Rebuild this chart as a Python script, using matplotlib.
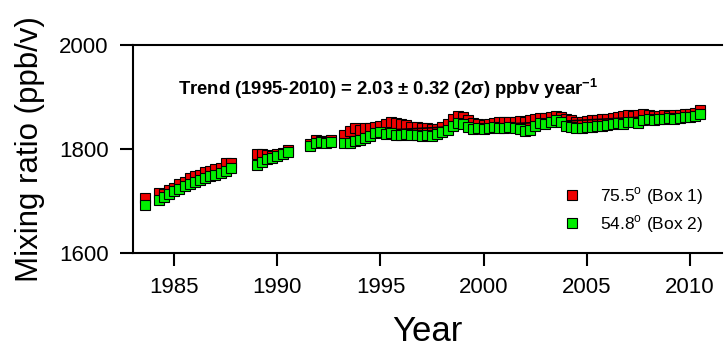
import numpy as np
import matplotlib
matplotlib.use('Agg')
import matplotlib.pyplot as plt

plt.rcParams['font.family'] = ['Liberation Sans', 'DejaVu Sans']
plt.rcParams['mathtext.fontset'] = 'custom'
plt.rcParams['mathtext.rm'] = 'Liberation Sans'
plt.rcParams['mathtext.bf'] = 'Liberation Sans:bold'

# años (trimestrales) por tramo, con huecos en la serie
years = [1983.6,
         1984.25, 1984.5, 1984.75, 1985.0, 1985.25, 1985.5, 1985.75, 1986.0,
         1986.25, 1986.5, 1986.75, 1987.0, 1987.25, 1987.5, 1987.75,
         1989.0, 1989.25, 1989.5, 1989.75, 1990.0, 1990.25, 1990.5,
         1991.6, 1991.85, 1992.1, 1992.35, 1992.6,
         1993.25, 1993.5, 1993.75, 1994.0, 1994.25, 1994.5, 1994.75, 1995.0,
         1995.25, 1995.5, 1995.75, 1996.0, 1996.25, 1996.5, 1996.75, 1997.0,
         1997.25, 1997.5, 1997.75, 1998.0, 1998.25, 1998.5, 1998.75, 1999.0,
         1999.25, 1999.5, 1999.75, 2000.0, 2000.25, 2000.5, 2000.75, 2001.0,
         2001.25, 2001.5, 2001.75, 2002.0, 2002.25, 2002.5, 2002.75, 2003.0,
         2003.25, 2003.5, 2003.75, 2004.0, 2004.25, 2004.5, 2004.75, 2005.0,
         2005.25, 2005.5, 2005.75, 2006.0, 2006.25, 2006.5, 2006.75, 2007.0,
         2007.25, 2007.5, 2007.75, 2008.0, 2008.25, 2008.5, 2008.75, 2009.0,
         2009.25, 2009.5, 2009.75, 2010.0, 2010.25, 2010.5]

# Box 1 (75.5)
box1 = [1706,
        1716, 1714, 1722, 1726, 1732, 1737, 1744, 1748,
        1751, 1755, 1758, 1762, 1764, 1774, 1774,
        1791, 1790, 1788, 1787, 1790, 1793, 1799,
        1810, 1817, 1816, 1815, 1818,
        1828, 1835, 1840, 1837, 1840, 1841, 1843, 1844,
        1849, 1852, 1850, 1849, 1846, 1843, 1842, 1841,
        1840, 1839, 1838, 1843, 1848, 1858, 1864, 1862,
        1855, 1851, 1848, 1846, 1848, 1850, 1852, 1853,
        1852, 1853, 1854, 1852, 1855, 1858, 1860, 1859,
        1862, 1864, 1862, 1858, 1855, 1853, 1852, 1854,
        1856, 1855, 1858, 1857, 1860, 1861, 1863, 1865,
        1864, 1866, 1868, 1866, 1864, 1863, 1865, 1864,
        1866, 1865, 1868, 1867, 1870, 1876]

# Box 2 (54.8)
box2 = [1693,
        1703, 1707, 1714, 1720, 1724, 1729, 1732, 1737,
        1741, 1745, 1748, 1751, 1754, 1758, 1764,
        1769, 1775, 1780, 1783, 1787, 1790, 1795,
        1806, 1812, 1813, 1812, 1813,
        1812, 1812, 1815, 1818, 1822, 1826, 1830, 1832,
        1829, 1830, 1828, 1827, 1829, 1827, 1828, 1826,
        1827, 1826, 1829, 1832, 1836, 1845, 1850, 1848,
        1842, 1839, 1840, 1838, 1840, 1842, 1841, 1840,
        1842, 1840, 1838, 1834, 1836, 1845, 1850, 1848,
        1852, 1855, 1852, 1845, 1842, 1840, 1841, 1842,
        1843, 1845, 1844, 1846, 1848, 1850, 1849, 1852,
        1853, 1851, 1855, 1857, 1856, 1858, 1857, 1859,
        1858, 1860, 1861, 1862, 1864, 1868]

# linea de tendencia 1995-2010
trend_years = [1995.0, 2010.5]
trend_vals = [1836, 1867]

fig = plt.figure(figsize=(7.24, 3.52), dpi=100)
ax = fig.add_axes([0.1837, 0.281, 0.8133, 0.591])

ax.plot(years, box1, 's', color='#ee0000', mec='black', mew=0.8, ms=7.4,
        label=r'75.5$^{\rm o}$ (Box 1)', zorder=2)
ax.plot(trend_years, trend_vals, '-', color='black', lw=1.2, zorder=3)
ax.plot(years, box2, 's', color='#00ee00', mec='black', mew=0.8, ms=7.4,
        label=r'54.8$^{\rm o}$ (Box 2)', zorder=4)

ax.set_xlim(1983, 2011.55)
ax.set_ylim(1600, 2000)
ax.set_xticks([1985, 1990, 1995, 2000, 2005, 2010])
ax.set_yticks([1600, 1800, 2000])

ax.spines['right'].set_visible(False)
for s in ['left', 'bottom', 'top']:
    ax.spines[s].set_linewidth(1.5)
ax.tick_params(direction='out', length=9.5, width=1.5, labelsize=16, pad=8)

ax.set_xlabel('Year', fontsize=25, labelpad=12)
ax.set_ylabel('Mixing ratio (ppb/v)', fontsize=22.5, labelpad=10)

ax.text(0.077, 0.79, r'Trend (1995-2010) = 2.03 ± 0.32 (2σ) ppbv year$^{\mathbf{-1}}$',
        transform=ax.transAxes, fontsize=13.3, fontweight='bold', va='center')

ax.legend(loc='center right', bbox_to_anchor=(0.98, 0.207), frameon=False,
          fontsize=12.5, handletextpad=0.6, labelspacing=0.35,
          borderaxespad=0, borderpad=0.4)

plt.savefig('out.png', dpi=100)
